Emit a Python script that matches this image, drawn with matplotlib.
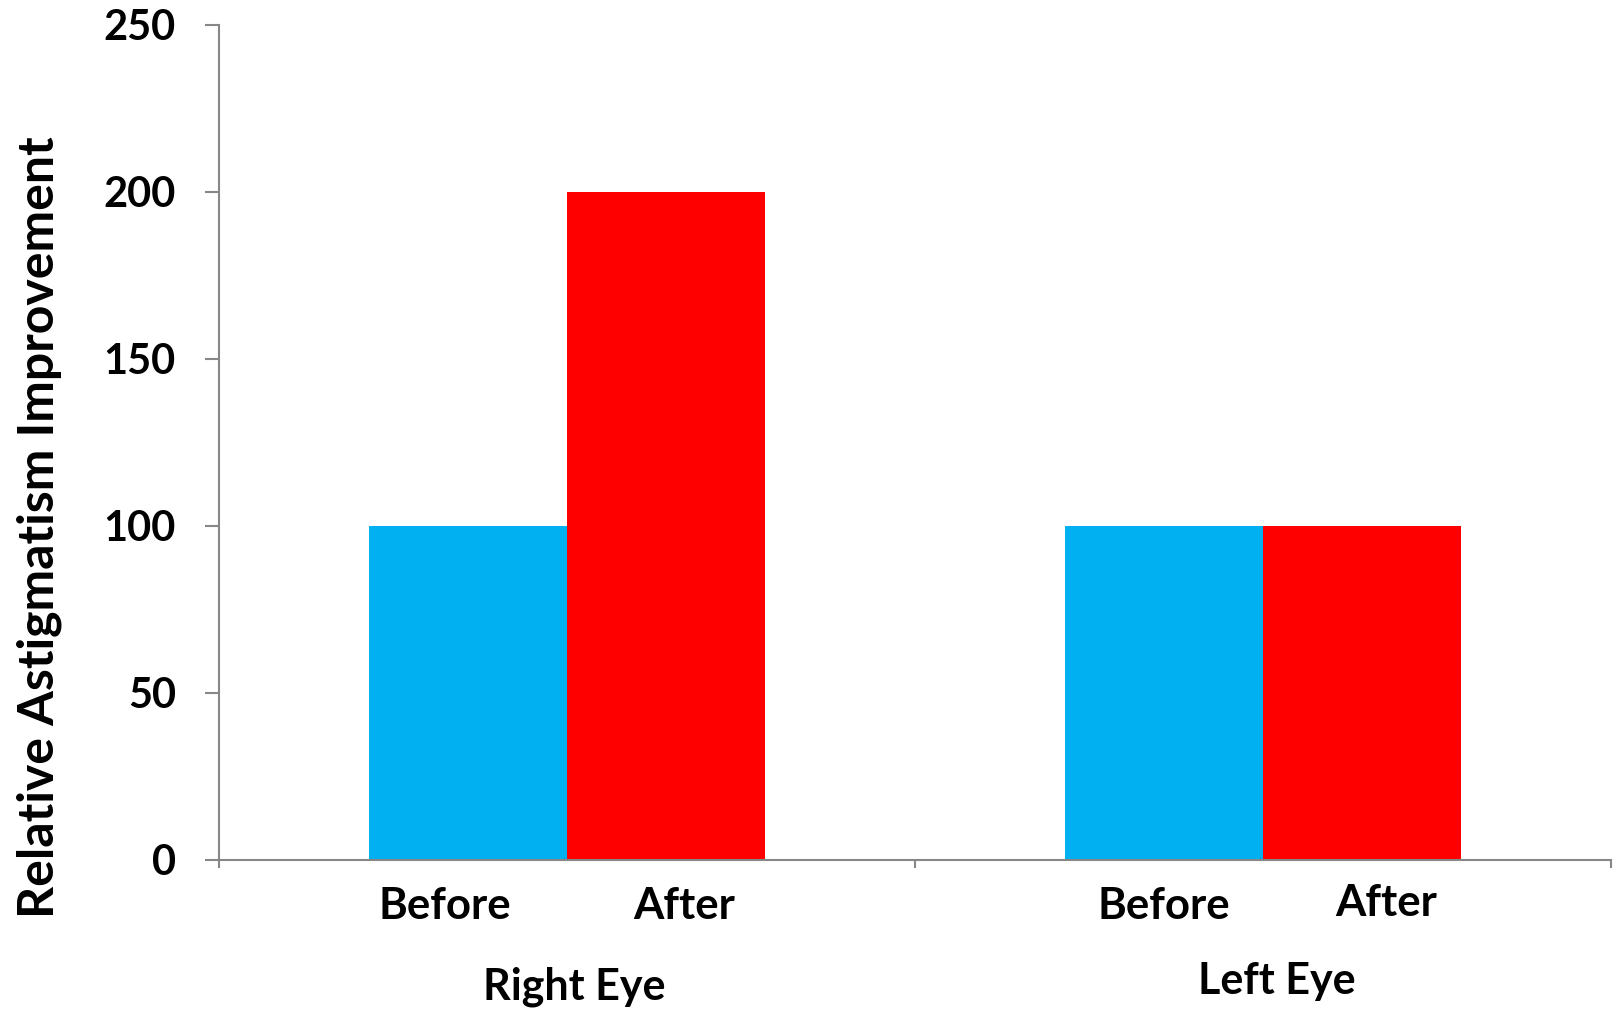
import matplotlib
matplotlib.use("Agg")
from matplotlib import pyplot as plt
import matplotlib.transforms as mtransforms

eyes = ["Right Eye", "Left Eye"]
series = ["Before", "After"]
before_vals = [100, 100]
after_vals = [200, 100]
y_ticks = [0, 50, 100, 150, 200, 250]

blue = "#00B0F0"
red = "#FF0000"
grey = "#878787"

plt.rcParams['font.family'] = ['Lato', 'DejaVu Sans']
plt.rcParams['font.weight'] = 'bold'

fig = plt.figure(figsize=(16.19, 10.11), dpi=100)
ax = fig.add_axes([0.1353, 0.1494, 0.995 - 0.1353, 0.9753 - 0.1494])

w = 0.285
xs = list(range(len(eyes)))
ax.bar([x - w / 2 for x in xs], before_vals, width=w, color=blue, zorder=2)
ax.bar([x + w / 2 for x in xs], after_vals, width=w, color=red, zorder=2)

ax.set_xlim(-0.5, len(eyes) - 0.5)
ax.set_ylim(0, 250)
ax.set_yticks(y_ticks)
ax.set_yticklabels([str(v) for v in y_ticks], fontsize=30, fontweight='bold')
ax.set_xticks([x - 0.5 for x in range(len(eyes) + 1)])
ax.set_xticklabels([])

for s in ['top', 'right']:
    ax.spines[s].set_visible(False)
for s in ['left', 'bottom']:
    ax.spines[s].set_color(grey)
    ax.spines[s].set_linewidth(1.5)
ax.tick_params(axis='y', length=10, width=1.5, color=grey, pad=21)
ax.tick_params(axis='x', length=6, width=1.5, color=grey)

trans = mtransforms.blended_transform_factory(ax.transData, ax.transAxes)
# small nudges so the labels sit like the original
offsets = [[-0.033, 0.026], [0.0, 0.034]]
label_y = [[-0.055, -0.055], [-0.055, -0.051]]
group_y = [-0.152, -0.145]
group_dx = [0.01, 0.02]
for i, eye in enumerate(eyes):
    centers = [i - w / 2, i + w / 2]
    for j, s in enumerate(series):
        ax.text(centers[j] + offsets[i][j], label_y[i][j], s, transform=trans,
                ha='center', va='center', fontsize=31.5, fontweight='bold')
    ax.text(i + group_dx[i], group_y[i], eye, transform=trans, ha='center',
            va='center', fontsize=31, fontweight='bold')

ax.text(-0.1295, 0.399, "Relative Astigmatism Improvement", transform=ax.transAxes,
        rotation=90, ha='center', va='center', fontsize=36, fontweight='bold')

fig.savefig("out.png", dpi=100)
